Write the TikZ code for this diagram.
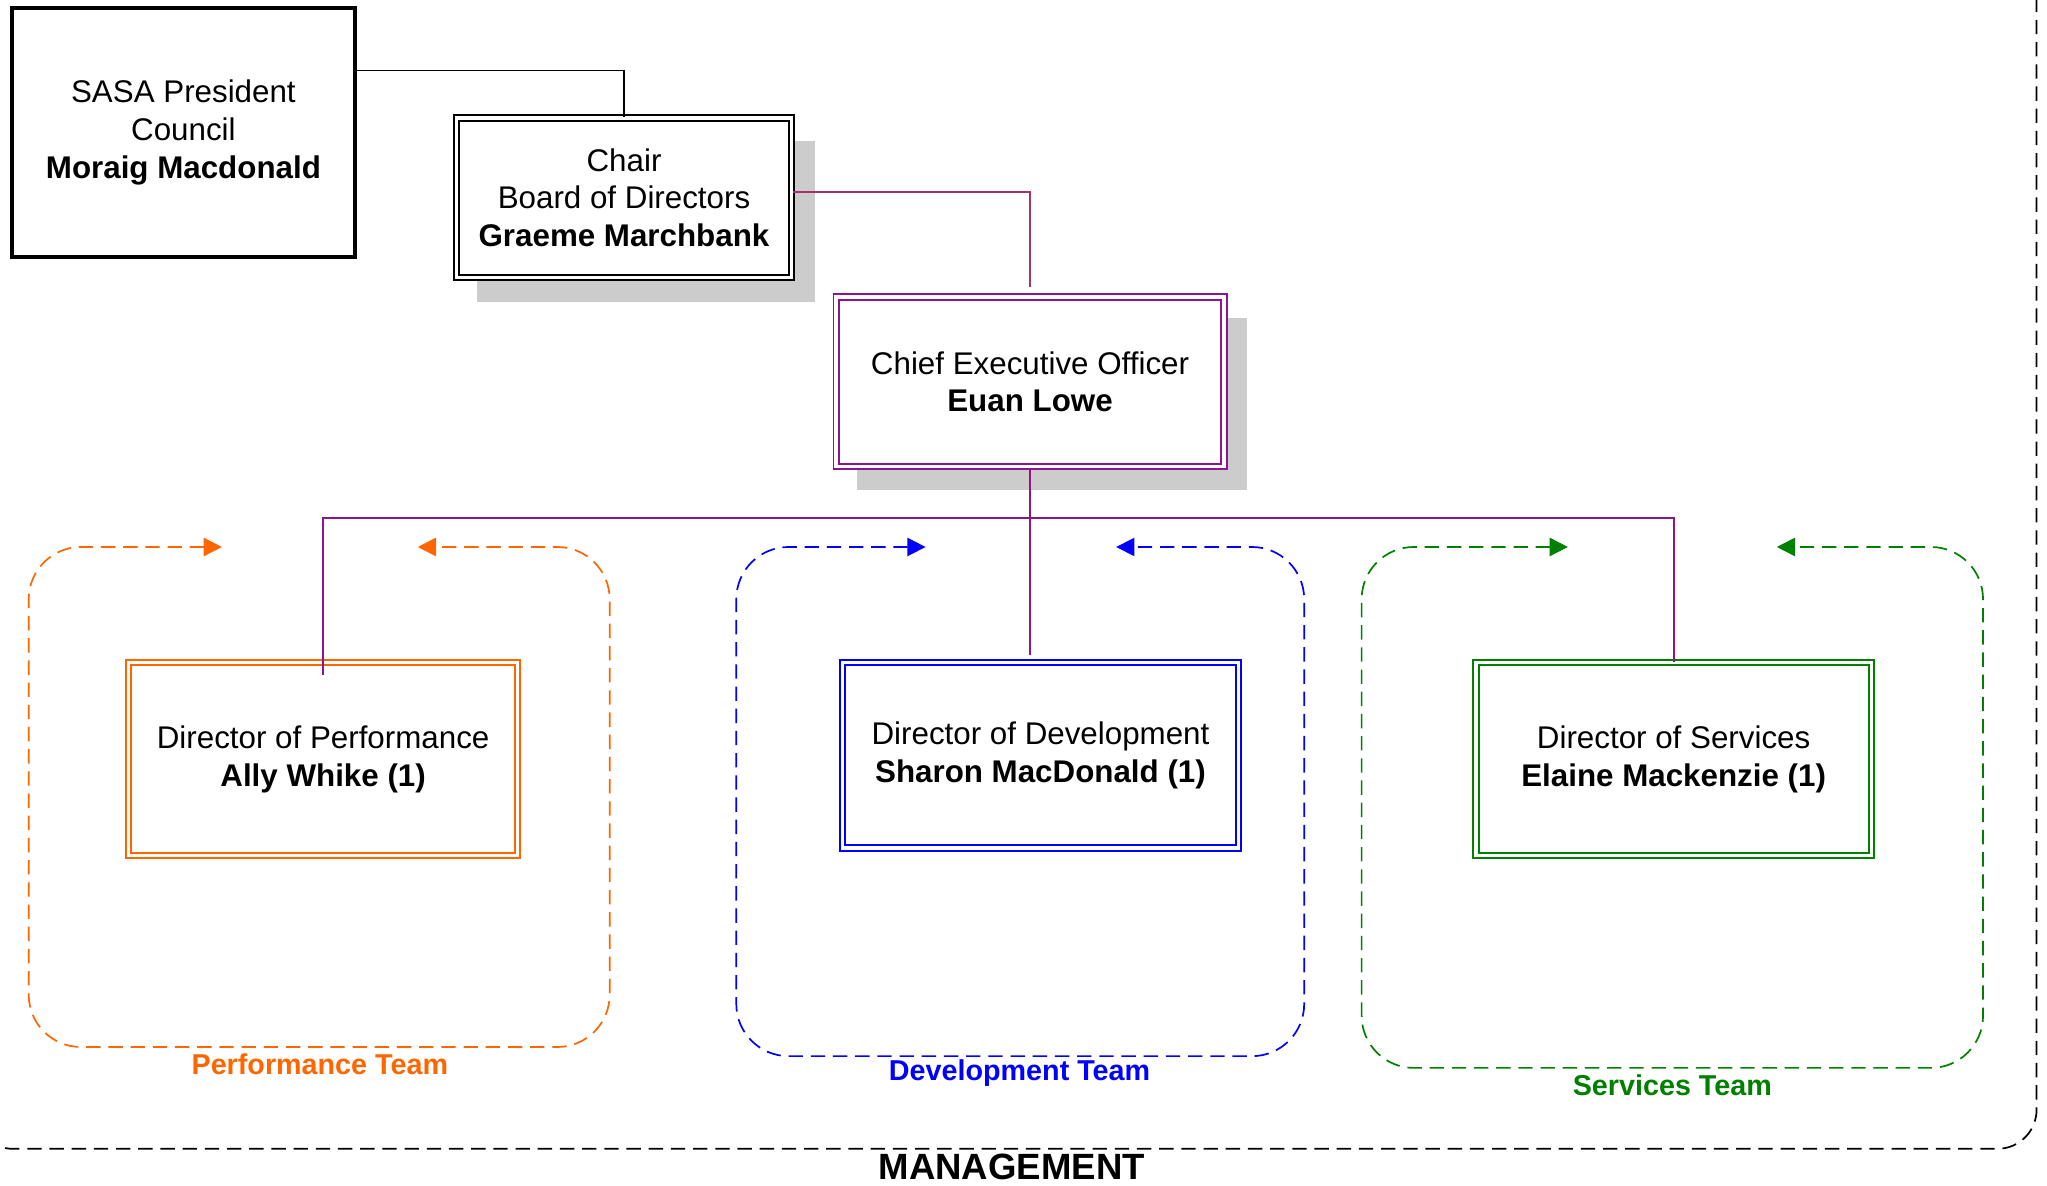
\documentclass[tikz,border=0pt]{standalone}
\usepackage{fontspec}
\setmainfont{Liberation Sans}
\usetikzlibrary{arrows.meta,calc,backgrounds}
\definecolor{orgc}{RGB}{255,102,0}
\definecolor{bluc}{RGB}{0,0,255}
\definecolor{grnc}{RGB}{0,128,0}
\definecolor{purc}{RGB}{140,20,140}
\definecolor{pinkc}{RGB}{160,50,110}
\definecolor{shadc}{RGB}{204,204,204}
\begin{document}
\begin{tikzpicture}[x=0.5pt,y=-0.5pt,
  txt/.style={font=\fontsize{12}{14.5}\selectfont, align=center},
  dbox/.style={txt, draw=#1, double=white, double distance=1.3pt, line width=0.75pt, fill=white, inner sep=0pt},
  teamline/.style={color=#1, line width=0.65pt, dash pattern=on 5.5pt off 3pt, rounded corners=20pt,
     arrows={Triangle[length=7pt,width=7pt]-Triangle[length=7pt,width=7pt]}},
  teamlabel/.style={font=\fontsize{11}{13}\selectfont\bfseries, text=#1},
  conn/.style={line width=0.65pt, draw=#1},
  shadow/.style={fill=shadc}
]
\useasboundingbox (0,0) rectangle (1568,908);

% management frame
\draw[line width=0.65pt, dash pattern=on 5.5pt off 3pt, rounded corners=15pt] (-20,-40) rectangle (1560,880);
\node[font=\fontsize{14}{17}\selectfont\bfseries, inner sep=0pt] (mgmt) at (775,894) {MANAGEMENT};

% nodes
\node[txt, draw=black, line width=1.3pt, fill=white, inner sep=0pt, minimum width=131.3pt, minimum height=95.3pt]
  (sasa) at (140.5,101.5) {\raisebox{-2pt}{\parbox{120pt}{\centering SASA President\\Council\\\textbf{Moraig Macdonald}}}};
\node[dbox=black, minimum width=128.5pt, minimum height=61pt]
  (chair) at (478,151.5) {Chair\\Board of Directors\\\textbf{Graeme Marchbank}};
\node[dbox=purc, minimum width=148.5pt, minimum height=65pt]
  (ceo) at (789,292.5) {Chief Executive Officer\\\textbf{Euan Lowe}};
\node[dbox=orgc, minimum width=149pt, minimum height=74pt]
  (perf) at (247.5,581.5) {Director of Performance\\\textbf{Ally Whike (1)}};
\node[dbox=bluc, minimum width=151.5pt, minimum height=71pt]
  (dev) at (797,578.5) {Director of Development\\\textbf{Sharon MacDonald (1)}};
\node[dbox=grnc, minimum width=151.5pt, minimum height=74pt]
  (serv) at (1282,581.5) {Director of Services\\\textbf{Elaine Mackenzie (1)}};

% shadows
\begin{scope}[on background layer]
\fill[shadow] ($(chair.south west)+(17,18)$) rectangle ($(chair.north east)+(17,18)$);
\fill[shadow] ($(ceo.south west)+(17,17)$) rectangle ($(ceo.north east)+(17,17)$);
\end{scope}

% team frames
\draw[teamline=orgc] (170,419) -| (22,802) -| (467,419) -- (320,419);
\draw[teamline=bluc] (709,419) -| (564,809) -| (999,419) -- (855,419);
\draw[teamline=grnc] (1201,419) -| (1043,818) -| (1519,419) -- (1361,419);
\node[teamlabel=orgc] (perflab) at (245,815) {Performance Team};
\node[teamlabel=bluc] (devlab) at (781,822) {Development Team};
\node[teamlabel=grnc] (servlab) at (1281,831) {Services Team};

% connectors
\coordinate (bus) at (789,397);
\draw[conn=black] ([yshift=23.75pt]sasa.east) -| (chair.north);
\draw[conn=pinkc] ([yshift=2.25pt]chair.east) -| ([yshift=3.5pt]ceo.north);
\draw[conn=purc] (ceo.south) -- (bus);
\draw[conn=purc] (bus) -| ([yshift=-5pt]perf.north);
\draw[conn=purc] (bus) -| (serv.north);
\draw[conn=purc] (bus) -- ($(bus |- dev.north)+(0,-5)$);
\end{tikzpicture}
\end{document}
